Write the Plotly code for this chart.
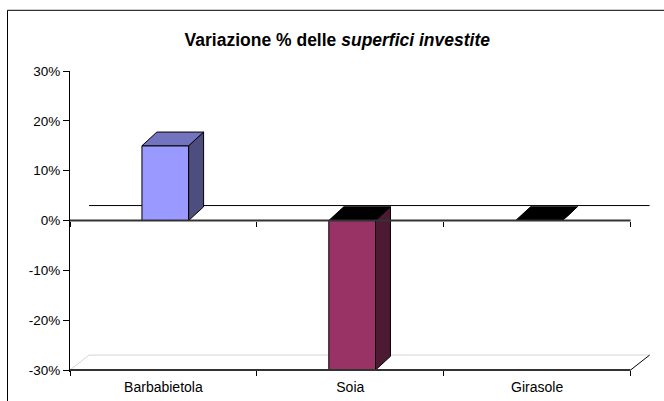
import plotly.graph_objects as go

# ---- data ----
categories = ["Barbabietola", "Soia", "Girasole"]
values = [15, -30, 0]          # variazione % delle superfici investite
y_ticks = [-30, -20, -10, 0, 10, 20, 30]
y_tick_labels = [f"{v}%" for v in y_ticks]
title_text = "<b>Variazione % delle <i>superfici investite</i></b>"

# ---- style ----
front_colors = ["#9999FF", "#993366", "#000000"]
side_colors = ["#4D4D80", "#4D1A33", "#000000"]
top_colors = ["#7373BF", "#000000", "#000000"]
BAR_W = 0.25
BAR_OFF = 0.01
DEPTH_X = 0.08      # oblique depth, category units
DEPTH_Y = 2.75      # oblique depth, percent units
WALL_X = 0.102
WALL_Y = 3.0
Y_MIN, Y_MAX = -30.4, 30.0
X_MAX = 3.12
FONT = "Liberation Sans, Arial, sans-serif"

fig = go.Figure()

def poly(xs, ys, fill, line="#000000", width=1, xaxis="x"):
    fig.add_trace(go.Scatter(x=xs, y=ys, mode="lines", fill="toself",
                             fillcolor=fill, line=dict(color=line, width=width),
                             hoverinfo="skip", showlegend=False, xaxis=xaxis))

def seg(xs, ys, color, width=1, xaxis="x"):
    fig.add_trace(go.Scatter(x=xs, y=ys, mode="lines",
                             line=dict(color=color, width=width),
                             hoverinfo="skip", showlegend=False, xaxis=xaxis))

n = len(categories)
lo = y_ticks[0]

# floor (3D) and back wall line at 0
seg([0, WALL_X, n + WALL_X], [lo, lo + WALL_Y, lo + WALL_Y], "#D4D4D4")
seg([n + WALL_X, n], [lo + WALL_Y, lo], "#000000")
seg([WALL_X, n + WALL_X], [WALL_Y, WALL_Y], "#000000")

# 3D bars
for i, v in enumerate(values):
    c = i + 0.5 + BAR_OFF
    xl, xr = c - BAR_W / 2, c + BAR_W / 2
    if v != 0:
        poly([xl, xr, xr, xl, xl], [0, 0, v, v, 0], front_colors[i])
    poly([xr, xr + DEPTH_X, xr + DEPTH_X, xr, xr],
         [0, DEPTH_Y, v + DEPTH_Y, v, 0], side_colors[i])
    t = max(v, 0)
    tc = top_colors[i] if v > 0 else "#000000"
    poly([xl, xl + DEPTH_X, xr + DEPTH_X, xr, xl],
         [t, t + DEPTH_Y, t + DEPTH_Y, t, t], tc)

# axis lines at 0 and at the floor
seg([0, n], [0, 0], "#333333", 2, xaxis="x2")
seg([0, n], [lo, lo], "#333333", 2, xaxis="x3")

def pos(v):
    return (v - Y_MIN) / (Y_MAX - Y_MIN)

boundary_ticks = list(range(n + 1))
common_x = dict(range=[0, X_MAX], showgrid=False, zeroline=False,
                fixedrange=True, automargin=False)

fig.update_layout(
    template="none",
    width=664, height=401,
    margin=dict(l=70, r=11, t=71, b=29, autoexpand=False),
    paper_bgcolor="white", plot_bgcolor="white",
    font=dict(family=FONT, size=13, color="#000000"),
    title=dict(text=title_text, x=0.508, xanchor="center", y=1 - 39.5 / 401,
               yanchor="middle", font=dict(family=FONT, size=17.5, color="#000000")),
    xaxis=dict(**common_x, tickmode="array",
               tickvals=[i + 0.5 for i in range(n)], ticktext=categories,
               ticks="outside", ticklen=2, tickcolor="rgba(0,0,0,0)",
               showline=False, tickfont=dict(size=14)),
    xaxis2=dict(**common_x, overlaying="x", anchor="free", position=pos(0),
                side="bottom", tickmode="array", tickvals=boundary_ticks,
                showticklabels=False, ticks="outside", ticklen=5,
                tickcolor="#000000", tickwidth=1, showline=False),
    xaxis3=dict(**common_x, overlaying="x", anchor="free", position=pos(lo),
                side="bottom", tickmode="array", tickvals=boundary_ticks,
                showticklabels=False, ticks="outside", ticklen=5,
                tickcolor="#000000", tickwidth=1, showline=False),
    yaxis=dict(range=[Y_MIN, Y_MAX], tickmode="array", tickvals=y_ticks,
               ticktext=y_tick_labels, ticks="outside", ticklen=6,
               tickcolor="#000000", showline=True, linecolor="#000000",
               linewidth=1, showgrid=False, zeroline=False, fixedrange=True,
               automargin=False, tickfont=dict(size=13.5)),
    shapes=[dict(type="rect", xref="paper", yref="paper",
                 x0=(7.5 - 70) / 583, x1=(675 - 70) / 583,
                 y0=(372 - 420) / 301, y1=(372 - 10.3) / 301,
                 line=dict(color="#000000", width=1), fillcolor="rgba(0,0,0,0)",
                 layer="below")],
)

fig.write_html("out.html",
               config={"displayModeBar": False, "staticPlot": True},
               post_script="document.body.style.margin='0';"
                           "document.body.style.overflow='hidden';")
